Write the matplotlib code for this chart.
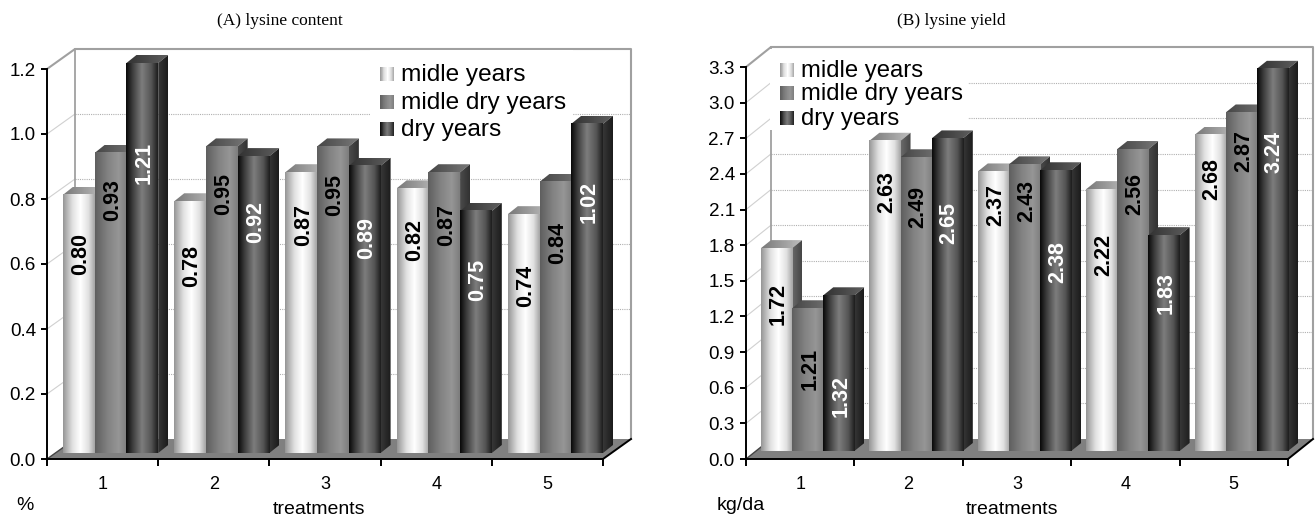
import numpy as np
import matplotlib
matplotlib.use("Agg")
import matplotlib.pyplot as plt
from matplotlib.patches import Polygon, Rectangle
from matplotlib.transforms import Affine2D

# data
treatments = ["1", "2", "3", "4", "5"]
series_names = ["midle years", "midle dry years", "dry years"]

content_midle = [0.80, 0.78, 0.87, 0.82, 0.74]
content_midle_dry = [0.93, 0.95, 0.95, 0.87, 0.84]
content_dry = [1.21, 0.92, 0.89, 0.75, 1.02]

yield_midle = [1.72, 2.63, 2.37, 2.22, 2.68]
yield_midle_dry = [1.21, 2.49, 2.43, 2.56, 2.87]
yield_dry = [1.32, 2.65, 2.38, 1.83, 3.24]

content_ticks = [0.0, 0.2, 0.4, 0.6, 0.8, 1.0, 1.2]
yield_ticks = [0.0, 0.3, 0.6, 0.9, 1.2, 1.5, 1.8, 2.1, 2.4, 2.7, 3.0, 3.3]

# where the value labels sit (pixel row of their centre)
content_label_rows = [[254, 266, 225, 240, 286],
                      [200, 194, 195, 225, 243],
                      [163, 222, 238, 280, 202]]
yield_label_rows = [[304, 192, 205, 255, 179],
                    [369, 207, 201, 194, 151],
                    [396, 223, 262, 293, 152]]

W, H = 1315, 522
FRONT_STOPS = [([0, .3, .55, .8, 1], [150, 225, 255, 225, 165]),
               ([0, .4, .75, 1], [95, 130, 150, 125]),
               ([0, .2, .5, .8, 1], [10, 60, 125, 85, 30])]
TOP_SHADE = [(120, 190), (70, 120), (50, 95)]
SIDE_SHADE = [(105, 70), (75, 50), (55, 28)]
LABEL_COLOR = ["black", "black", "white"]

plt.rcParams["font.family"] = ["Liberation Sans", "DejaVu Sans"]
fig = plt.figure(figsize=(W / 100, H / 100), dpi=100)
px = Affine2D().scale(1 / W, -1 / H).translate(0, 1) + fig.transFigure


def shade(ax, x0, x1, y0, y1, xs, greys, zorder, clip=None):
    ramp = np.interp(np.linspace(0, 1, 64), xs, greys)[None, :]
    im = ax.imshow(ramp, extent=(x0, x1, y0, y1), aspect="auto", cmap="gray",
                   vmin=0, vmax=255, interpolation="bilinear", zorder=zorder)
    # images fall back on the axes box, so give them the whole figure
    im.set_clip_box(fig.bbox)
    if clip is not None:
        im.set_clip_path(Polygon(clip, closed=True, transform=ax.transData))
    else:
        im.set_clip_path(None)


def panel(left, right, ytop, ybot, ymax, ticks, series, rows, base_px, inset_px,
          wall_dx, box, tick_fmt="%.1f"):
    ax = fig.add_axes([left / W, 1 - ybot / H, (right - left) / W, (ybot - ytop) / H])
    ax.patch.set_alpha(0)
    xpx = (right - left) / 5
    ypx = (ybot - ytop) / ymax
    wx, wy = wall_dx / xpx, 20 / ypx
    grey = "#a0a0a0"

    # back wall, side wall and floor
    for t in ticks[1:-1]:
        ax.plot([0, wx], [t, t + wy], color="#d0d0d0", lw=0.8, zorder=1, clip_on=False)
        ax.plot([wx, 5 + wx], [t + wy, t + wy], color="#b0b0b0", lw=0.8, ls=(0, (1, 1)),
                zorder=1, clip_on=False)
    ax.plot([0, wx, 5 + wx, 5 + wx], [ymax, ymax + wy, ymax + wy, wy], color=grey, lw=1.5,
            zorder=1, clip_on=False)
    ax.plot([wx, wx], [wy, ymax + wy], color=grey, lw=1.3, zorder=1, clip_on=False)
    ax.add_patch(Polygon([(0, 0), (5, 0), (5 + wx, wy), (wx, wy)], closed=True, fc="#808080",
                         ec="none", zorder=2, clip_on=False))
    ax.plot([5, 5 + wx], [0, wy], color="black", lw=1.4, zorder=2, clip_on=False)
    ax.plot([0, wx], [0, wy], color="#444444", lw=1, zorder=2, clip_on=False)

    # white block behind the legend
    ax.add_patch(Rectangle((box[0], box[1]), box[2] - box[0], box[3] - box[1], transform=px,
                           fc="white", ec="none", zorder=2.5, clip_on=False))

    # bars, left to right so that later ones cover earlier sides
    inset = inset_px / xpx
    bw = (1 - inset) / 3
    bar_dx, bar_dy = 10 / xpx, 8 / ypx
    base = (ybot - base_px) / ypx
    z = 3
    for g in range(5):
        for s in range(3):
            v = min(series[s][g] * 0.993, ymax)
            x0 = g + inset + s * bw
            x1 = x0 + bw
            top = base + v
            poly_top = [(x0, top), (x1, top), (x1 + bar_dx, top + bar_dy), (x0 + bar_dx, top + bar_dy)]
            poly_side = [(x1, base), (x1 + bar_dx, base + bar_dy), (x1 + bar_dx, top + bar_dy), (x1, top)]
            shade(ax, x0, x1 + bar_dx, top, top + bar_dy, [0, 1], TOP_SHADE[s], z, poly_top)
            shade(ax, x1, x1 + bar_dx, base, top + bar_dy, [0, 1], SIDE_SHADE[s], z, poly_side)
            shade(ax, x0, x1, base, top, *FRONT_STOPS[s], z + 0.1)
            ax.text((x0 + x1) / 2 + 2 / xpx, (ybot - rows[s][g]) / ypx, "%.2f" % series[s][g],
                    rotation=90, ha="center", va="center", fontsize=15.5, fontweight="bold",
                    color=LABEL_COLOR[s], zorder=50)
            z += 1

    ax.set_xlim(0, 5)
    ax.set_ylim(0, ymax)
    for name in ["top", "right"]:
        ax.spines[name].set_visible(False)
    for name in ["left", "bottom"]:
        ax.spines[name].set_linewidth(1.4)
        ax.spines[name].set_zorder(60)
    ax.set_yticks(ticks)
    ax.set_yticklabels([tick_fmt % t for t in ticks], fontsize=13.6)
    ax.set_xticks(range(6))
    ax.set_xticklabels([])
    ax.set_xticks(np.arange(5) + 0.5, minor=True)
    ax.set_xticklabels(treatments, minor=True, fontsize=13)
    ax.tick_params(axis="y", length=4, width=1.4, pad=4)
    ax.tick_params(axis="x", which="major", length=5, width=1.4)
    ax.tick_params(axis="x", which="minor", length=0, pad=12)
    return ax


panel(47, 603, 69, 459, 1.2, content_ticks, [content_midle, content_midle_dry, content_dry],
      content_label_rows, 453, 16, 28, (370, 50, 573, 125))
panel(746, 1288, 67, 459, 3.3, yield_ticks, [yield_midle, yield_midle_dry, yield_dry],
      yield_label_rows, 451, 15, 25, (770, 49, 968, 130))

# legends and free text in a pixel overlay
over = fig.add_axes([0, 0, 1, 1], zorder=100)
over.set_xlim(0, W)
over.set_ylim(H, 0)
over.axis("off")
for sw_x, legend_rows, legend_size in [(380, [74, 102, 129], 17.6), (780, [70, 93, 118], 17.2)]:
    for s, row in enumerate(legend_rows):
        ramp = np.interp(np.linspace(0, 1, 32), *FRONT_STOPS[s])[None, :]
        over.imshow(ramp, extent=(sw_x, sw_x + 14, row + 7, row - 7), aspect="auto", cmap="gray",
                    vmin=0, vmax=255, interpolation="nearest")
        over.text(sw_x + 21, row + 1, series_names[s], fontsize=legend_size, va="center", ha="left")
over.set_xlim(0, W)
over.set_ylim(H, 0)

over.text(280, 21, "(A) lysine content", family="Liberation Serif", fontsize=12.5, ha="center", va="center")
over.text(951, 21, "(B) lysine yield", family="Liberation Serif", fontsize=12.5, ha="center", va="center")
over.text(319, 510, "treatments", fontsize=14, ha="center", va="center")
over.text(1012, 510, "treatments", fontsize=14, ha="center", va="center")
over.text(25, 506, "%", fontsize=14, ha="center", va="center")
over.text(741, 506, "kg/da", fontsize=14, ha="center", va="center")

fig.savefig("out.png", dpi=100)
